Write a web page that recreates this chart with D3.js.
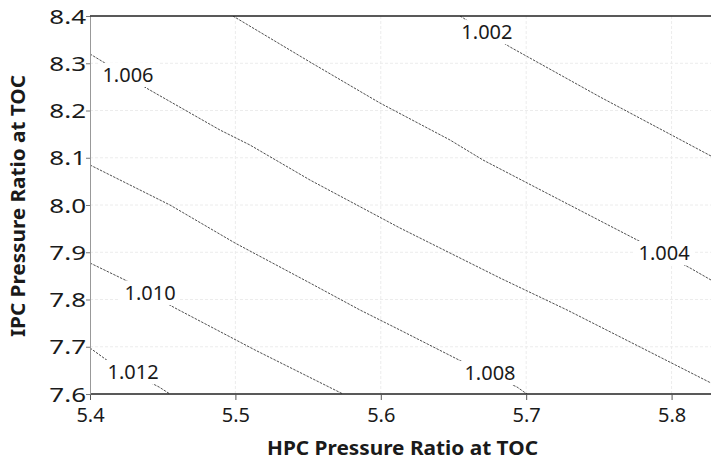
<!DOCTYPE html>
<html>
<head>
<meta charset="utf-8">
<script src="https://cdn.jsdelivr.net/npm/d3@7"></script>
<style>
  body { margin: 0; background: #fff; }
  svg text { font-family: "Noto Sans", "Open Sans", sans-serif; fill: #1a1a1a; }
</style>
</head>
<body>
<svg id="chart"></svg>
<script>
// tick values
const xTicks = [5.4, 5.5, 5.6, 5.7, 5.8];
const yTicks = [7.6, 7.7, 7.8, 7.9, 8.0, 8.1, 8.2, 8.3, 8.4];

// contour levels and their polylines [HPC, IPC]
const levels = [1.002, 1.004, 1.006, 1.008, 1.010, 1.012];
const contour1002 = [[5.6545, 8.400], [5.6889, 8.3344], [5.7508, 8.2286], [5.8271, 8.1037]];
const contour1004 = [[5.4983, 8.400], [5.5513, 8.3026], [5.5994, 8.2159], [5.6476, 8.1376], [5.6703, 8.0952],
                     [5.7232, 8.0106], [5.7803, 7.9196], [5.8127, 7.8667], [5.8271, 7.8413]];
const contour1006 = [[5.4000, 8.3196], [5.4399, 8.2455], [5.4894, 8.1587], [5.5100, 8.1270], [5.5513, 8.0529],
                     [5.6132, 7.9513], [5.6820, 7.8455], [5.7281, 7.7778], [5.8271, 7.6233]];
const contour1008 = [[5.4000, 8.0847], [5.4550, 8.0000], [5.4997, 7.9196], [5.5513, 7.8349], [5.5857, 7.7778],
                     [5.6132, 7.7354], [5.6565, 7.6677], [5.6937, 7.6148], [5.7005, 7.6000]];
const contour1010 = [[5.4000, 7.8772], [5.4241, 7.8413], [5.4585, 7.7820], [5.5135, 7.6931], [5.5740, 7.6000]];
const contour1012 = [[5.4000, 7.6974], [5.4124, 7.6698], [5.4475, 7.6148], [5.4550, 7.6000]];
const contours = [contour1002, contour1004, contour1006, contour1008, contour1010, contour1012];

// where each level's label sits (label centre, data units)
const labelHpc = [5.673, 5.7948, 5.4261, 5.6751, 5.4413, 5.4296];
const labelIpc = [8.366, 7.8984, 8.2751, 7.6444, 7.8138, 7.6466];

const width = 711, height = 462;
const margin = {top: 16, left: 90, bottom: 68};
const plotH = height - margin.top - margin.bottom;

const svg = d3.select('#chart').attr('width', width).attr('height', height);

const x = d3.scaleLinear().domain([5.4, 5.83]).range([margin.left, margin.left + 625.2]);
const y = d3.scaleLinear().domain([7.6, 8.4]).range([margin.top + plotH, margin.top]);

svg.append('defs').append('clipPath').attr('id', 'plot-clip')
  .append('rect')
  .attr('x', margin.left).attr('y', margin.top)
  .attr('width', width - margin.left).attr('height', plotH);

// grid
const grid = svg.append('g').attr('class', 'grid');
grid.selectAll('line.gx').data(xTicks.slice(1)).enter().append('line')
  .attr('x1', d => x(d)).attr('x2', d => x(d))
  .attr('y1', y(8.4)).attr('y2', y(7.6))
  .attr('stroke', '#ececec').attr('stroke-dasharray', '3,2');
grid.selectAll('line.gy').data(yTicks.slice(1, -1)).enter().append('line')
  .attr('x1', x(5.4)).attr('x2', width)
  .attr('y1', d => y(d)).attr('y2', d => y(d))
  .attr('stroke', '#ececec').attr('stroke-dasharray', '3,2');

// contour lines
const line = d3.line().x(d => x(d[0])).y(d => y(d[1]));
const lines = svg.append('g').attr('clip-path', 'url(#plot-clip)');
lines.selectAll('path').data(contours).enter().append('path')
  .attr('d', line)
  .attr('fill', 'none')
  .attr('stroke', '#3a3a3a')
  .attr('stroke-width', 0.9)
  .attr('stroke-dasharray', '2.5,1.2');

// contour labels with a white gap under them
const lab = svg.append('g');
levels.forEach((lv, i) => {
  const g = lab.append('g').attr('transform', `translate(${x(labelHpc[i])},${y(labelIpc[i])})`);
  g.append('rect').attr('x', -30).attr('y', -12).attr('width', 60).attr('height', 24).attr('fill', '#fff');
  g.append('text').attr('text-anchor', 'middle').attr('dy', '0.36em')
    .style('font-size', '20px').text(d3.format('.3f')(lv));
});

// axes
const xAxis = d3.axisBottom(x).tickValues(xTicks).tickFormat(d3.format('.1f')).tickSize(6).tickSizeOuter(0);
const xAxisG = svg.append('g').attr('transform', `translate(0,${y(7.6)})`).call(xAxis);
xAxisG.select('.domain').attr('stroke', '#222').attr('stroke-width', 1.5).attr('d', `M${x(5.4)},0H${width}`);
xAxisG.selectAll('.tick line').attr('stroke', '#555');
xAxisG.selectAll('.tick text').attr('y', 21).attr('dy', '0.36em').style('font-size', '20px').attr('fill', '#1a1a1a');

const yAxis = d3.axisLeft(y).tickValues(yTicks).tickFormat(d3.format('.1f')).tickSize(4).tickSizeOuter(0);
const yAxisG = svg.append('g').attr('transform', `translate(${x(5.4)},0)`).call(yAxis);
yAxisG.select('.domain').attr('stroke', '#999');
yAxisG.selectAll('.tick line').attr('stroke', '#777');
yAxisG.selectAll('.tick text')
  .attr('x', -4 / 1.3).attr('dy', '0.36em')
  .attr('transform', 'scale(1.3,1)')
  .style('font-size', '20px').attr('fill', '#1a1a1a');

// top border
svg.append('line')
  .attr('x1', x(5.4)).attr('x2', width)
  .attr('y1', y(8.4)).attr('y2', y(8.4))
  .attr('stroke', '#222').attr('stroke-width', 1.5);

// axis titles
svg.append('text')
  .attr('x', 267).attr('y', 455)
  .attr('textLength', 271).attr('lengthAdjust', 'spacingAndGlyphs')
  .style('font-size', '20px').style('font-weight', 'bold')
  .text('HPC Pressure Ratio at TOC');

svg.append('text')
  .attr('transform', 'translate(25,337) rotate(-90)')
  .attr('textLength', 262).attr('lengthAdjust', 'spacingAndGlyphs')
  .style('font-size', '20px').style('font-weight', 'bold')
  .text('IPC Pressure Ratio at TOC');
</script>
</body>
</html>
